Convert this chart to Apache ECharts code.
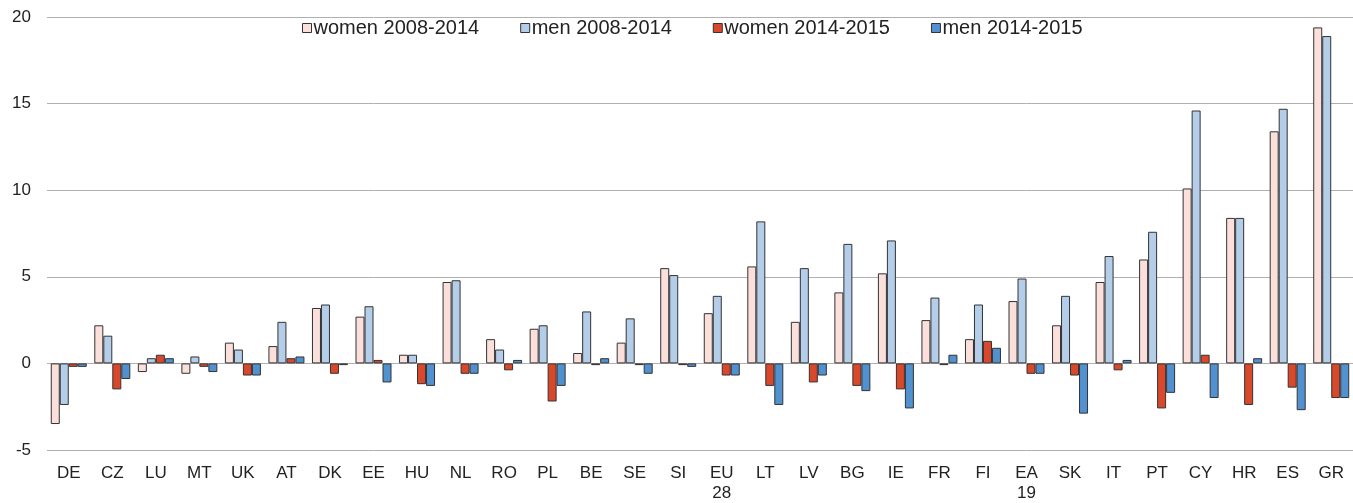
<!DOCTYPE html>
<html lang="en">
<head>
    <meta charset="UTF-8">
    <title>women / men 2008-2014, 2014-2015</title>
    <script src="https://cdn.jsdelivr.net/npm/echarts@6/dist/echarts.min.js"></script>
    <style>
        html, body { margin: 0; padding: 0; background: #fff; }
        #main { width: 1353px; height: 503px; }
    </style>
</head>
<body>
<div id="main"></div>
<script>
    var countries = ['DE', 'CZ', 'LU', 'MT', 'UK', 'AT', 'DK', 'EE', 'HU', 'NL', 'RO', 'PL', 'BE', 'SE', 'SI',
        'EU\n28', 'LT', 'LV', 'BG', 'IE', 'FR', 'FI', 'EA\n19', 'SK', 'IT', 'PT', 'CY', 'HR', 'ES', 'GR'];
    var women0814 = [-3.5, 2.2, -0.5, -0.6, 1.2, 1.0, 3.2, 2.7, 0.5, 4.7, 1.4, 2.0, 0.6, 1.2, 5.5,
        2.9, 5.6, 2.4, 4.1, 5.2, 2.5, 1.4, 3.6, 2.2, 4.7, 6.0, 10.1, 8.4, 13.4, 19.4];
    var men0814 = [-2.4, 1.6, 0.3, 0.4, 0.8, 2.4, 3.4, 3.3, 0.5, 4.8, 0.8, 2.2, 3.0, 2.6, 5.1,
        3.9, 8.2, 5.5, 6.9, 7.1, 3.8, 3.4, 4.9, 3.9, 6.2, 7.6, 14.6, 8.4, 14.7, 18.9];
    var women1415 = [-0.2, -1.5, 0.5, -0.2, -0.7, 0.3, -0.6, 0.2, -1.2, -0.6, -0.4, -2.2, -0.1, -0.1, -0.1,
        -0.7, -1.3, -1.1, -1.3, -1.5, -0.1, 1.3, -0.6, -0.7, -0.4, -2.6, 0.5, -2.4, -1.4, -2.0];
    var men1415 = [-0.2, -0.9, 0.3, -0.5, -0.7, 0.4, -0.1, -1.1, -1.3, -0.6, 0.2, -1.3, 0.3, -0.6, -0.2,
        -0.7, -2.4, -0.7, -1.6, -2.6, 0.5, 0.9, -0.6, -2.9, 0.2, -1.7, -2.0, 0.3, -2.7, -2.0];
    var seriesNames = ['women 2008-2014', 'men 2008-2014', 'women 2014-2015', 'men 2014-2015'];
    var colors = ['#FBDFDA', '#B4CDE8', '#D9482B', '#5191CF'];

    var myChart = echarts.init(document.getElementById('main'));

    function bar(i, data) {
        return {
            name: seriesNames[i],
            type: 'bar',
            barWidth: 9,
            barGap: '0%',
            itemStyle: {
                color: colors[i],
                borderColor: '#333',
                borderWidth: 1
            },
            data: data
        };
    }

    var option = {
        animation: false,
        textStyle: { fontFamily: 'Liberation Sans' },
        legend: {
            left: 297,
            top: 13,
            itemWidth: 9,
            itemHeight: 9,
            itemGap: 41,
            icon: 'rect',
            textStyle: { fontSize: 20, color: '#222', padding: [0, 0, 0, -3] },
            itemStyle: { borderColor: '#333', borderWidth: 1 },
            data: seriesNames
        },
        grid: {
            left: 47,
            right: 0,
            top: 17,
            bottom: 47
        },
        xAxis: {
            type: 'category',
            data: countries,
            axisLine: { show: false },
            axisTick: { show: false },
            axisLabel: {
                fontSize: 17,
                color: '#222',
                margin: 13,
                lineHeight: 20,
                interval: 0
            }
        },
        yAxis: {
            type: 'value',
            min: -5,
            max: 20,
            interval: 5,
            axisLine: { show: false },
            axisTick: { show: false },
            axisLabel: { fontSize: 17, color: '#222', margin: 16 },
            splitLine: { lineStyle: { color: '#b0b0b0', width: 1 } }
        },
        series: [
            bar(0, women0814),
            bar(1, men0814),
            bar(2, women1415),
            bar(3, men1415)
        ]
    };

    myChart.setOption(option);
</script>
</body>
</html>
